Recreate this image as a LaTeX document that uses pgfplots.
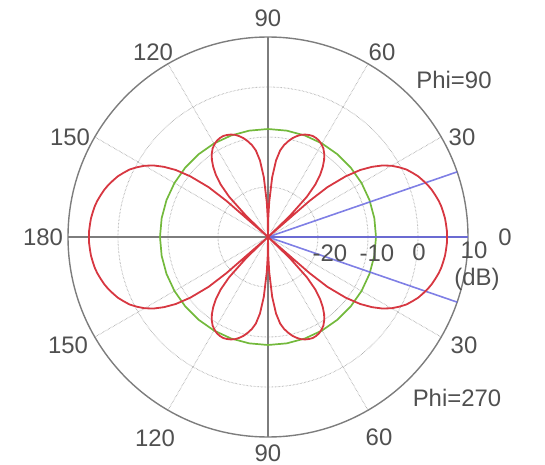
\documentclass[border=0pt]{standalone}
\usepackage{fontspec}
\setmainfont{Liberation Sans}
\usepackage{pgfplots}
\pgfplotsset{compat=1.18}
\usepackage{pgfplotstable}
\usepgfplotslibrary{polar}
\definecolor{pred}{RGB}{215,55,65}
\definecolor{pgreen}{RGB}{115,185,60}
\definecolor{pblue}{RGB}{105,105,225}
\definecolor{pgrid}{RGB}{160,160,160}
\definecolor{paxis}{RGB}{125,125,125}
\definecolor{ptext}{RGB}{80,80,80}

% Radiation pattern (angle in degrees, level in dB)
\pgfplotstableread{
a db
0 5.8
2 5.8
4 5.7
6 5.6
8 5.4
10 5.2
12 4.9
14 4.5
16 4.1
18 3.6
20 3.0
22 2.4
24 1.6
26 0.8
28 -0.3
30 -1.5
32 -3.0
34 -4.9
36 -7.2
38 -10.3
40 -14.5
41 -19.0
42 -30
43 -30
44 -24.0
46 -18.8
48 -15.8
50 -13.8
52 -12.2
54 -10.9
56 -9.9
58 -9.1
60 -8.6
62 -8.2
64 -8.0
66 -7.9
68 -8.0
70 -8.2
72 -8.5
74 -9.0
76 -9.6
78 -10.4
80 -11.3
82 -12.5
84 -14.6
86 -18.0
88 -23.0
89 -26.0
90 -30
91 -26.0
92 -23.0
94 -18.0
96 -14.6
98 -12.5
100 -11.3
102 -10.4
104 -9.6
106 -9.0
108 -8.5
110 -8.2
112 -8.0
114 -7.9
116 -8.0
118 -8.2
120 -8.6
122 -9.1
124 -9.9
126 -10.9
128 -12.2
130 -13.8
132 -15.8
134 -18.8
136 -24.0
137 -30
138 -30
139 -19.0
140 -14.5
142 -10.3
144 -7.2
146 -4.9
148 -3.0
150 -1.5
152 -0.3
154 0.8
156 1.6
158 2.4
160 3.0
162 3.6
164 4.1
166 4.5
168 4.9
170 5.2
172 5.4
174 5.6
176 5.7
178 5.8
180 5.8
182 5.8
184 5.7
186 5.6
188 5.4
190 5.2
192 4.9
194 4.5
196 4.1
198 3.6
200 3.0
202 2.4
204 1.6
206 0.8
208 -0.3
210 -1.5
212 -3.0
214 -4.9
216 -7.2
218 -10.3
220 -14.5
221 -19.0
222 -30
223 -30
224 -24.0
226 -18.8
228 -15.8
230 -13.8
232 -12.2
234 -10.9
236 -9.9
238 -9.1
240 -8.6
242 -8.2
244 -8.0
246 -7.9
248 -8.0
250 -8.2
252 -8.5
254 -9.0
256 -9.6
258 -10.4
260 -11.3
262 -12.5
264 -14.6
266 -18.0
268 -23.0
269 -26.0
270 -30
271 -26.0
272 -23.0
274 -18.0
276 -14.6
278 -12.5
280 -11.3
282 -10.4
284 -9.6
286 -9.0
288 -8.5
290 -8.2
292 -8.0
294 -7.9
296 -8.0
298 -8.2
300 -8.6
302 -9.1
304 -9.9
306 -10.9
308 -12.2
310 -13.8
312 -15.8
314 -18.8
316 -24.0
317 -30
318 -30
319 -19.0
320 -14.5
322 -10.3
324 -7.2
326 -4.9
328 -3.0
330 -1.5
332 -0.3
334 0.8
336 1.6
338 2.4
340 3.0
342 3.6
344 4.1
346 4.5
348 4.9
350 5.2
352 5.4
354 5.6
356 5.7
358 5.8
360 5.8
}\antpattern

\begin{document}
\begin{tikzpicture}
\fontsize{24}{28}\selectfont
\begin{polaraxis}[
  width=400bp, height=400bp, scale only axis,
  ymin=0, ymax=40,
  xtick={0,30,...,330}, ytick={10,20,30},
  xticklabels={}, yticklabels={},
  major tick length=0pt,
  grid=major,
  major grid style={pgrid, densely dotted, line width=0.9bp},
  axis line style={paxis, line width=1.4bp},
  clip=false,
]
\coordinate (c) at (axis cs:0,0);
% solid main axes
\addplot[paxis, line width=1.1bp] coordinates {(180,40) (180,0)};
\addplot[paxis, line width=1.1bp] coordinates {(90,40) (90,0)};
\addplot[paxis, line width=1.1bp] coordinates {(270,40) (270,0)};
% reference level circle (-8.4 dB)
\addplot[pgreen, line width=1.7bp] coordinates {
(0,21.6) (10,21.6) (20,21.6) (30,21.6) (40,21.6) (50,21.6) (60,21.6) (70,21.6) (80,21.6)
(90,21.6) (100,21.6) (110,21.6) (120,21.6) (130,21.6) (140,21.6) (150,21.6) (160,21.6)
(170,21.6) (180,21.6) (190,21.6) (200,21.6) (210,21.6) (220,21.6) (230,21.6) (240,21.6)
(250,21.6) (260,21.6) (270,21.6) (280,21.6) (290,21.6) (300,21.6) (310,21.6) (320,21.6)
(330,21.6) (340,21.6) (350,21.6) (360,21.6)};
% blue direction lines
\addplot[pblue, line width=1.6bp, opacity=0.85] coordinates {(0,0) (0,40)};
\addplot[pblue, line width=1.6bp, opacity=0.85] coordinates {(19,0) (19,40)};
\addplot[pblue, line width=1.6bp, opacity=0.85] coordinates {(341,0) (341,40)};
% pattern
\addplot[pred, line width=1.8bp, line join=round] table[x=a, y expr=\thisrow{db}+30] {\antpattern};
\end{polaraxis}
\begin{scope}[shift={(c)}, every node/.style={text=ptext, inner sep=0pt}]
\node at (237bp,0bp) {0};
\node at (194bp,100bp) {30};
\node at (114bp,185bp) {60};
\node at (0bp,219bp) {90};
\node at (-115bp,185bp) {120};
\node at (-198bp,100bp) {150};
\node at (-225bp,0bp) {180};
\node at (-200bp,-108bp) {150};
\node at (-113bp,-201bp) {120};
\node at (0bp,-216bp) {90};
\node at (111bp,-200bp) {60};
\node at (196bp,-108bp) {30};
\node at (186bp,157bp) {Phi=90};
\node at (189bp,-161bp) {Phi=270};
\node at (62bp,-16bp) {-20};
\node at (109bp,-16bp) {-10};
\node at (151bp,-15bp) {0};
\node at (206bp,-13bp) {10};
\node at (209bp,-42bp) {(dB)};
\end{scope}
\pgfresetboundingbox
\path[use as bounding box] (c) ++(-268bp,237bp) rectangle ++(545bp,-465bp);
\end{tikzpicture}
\end{document}
